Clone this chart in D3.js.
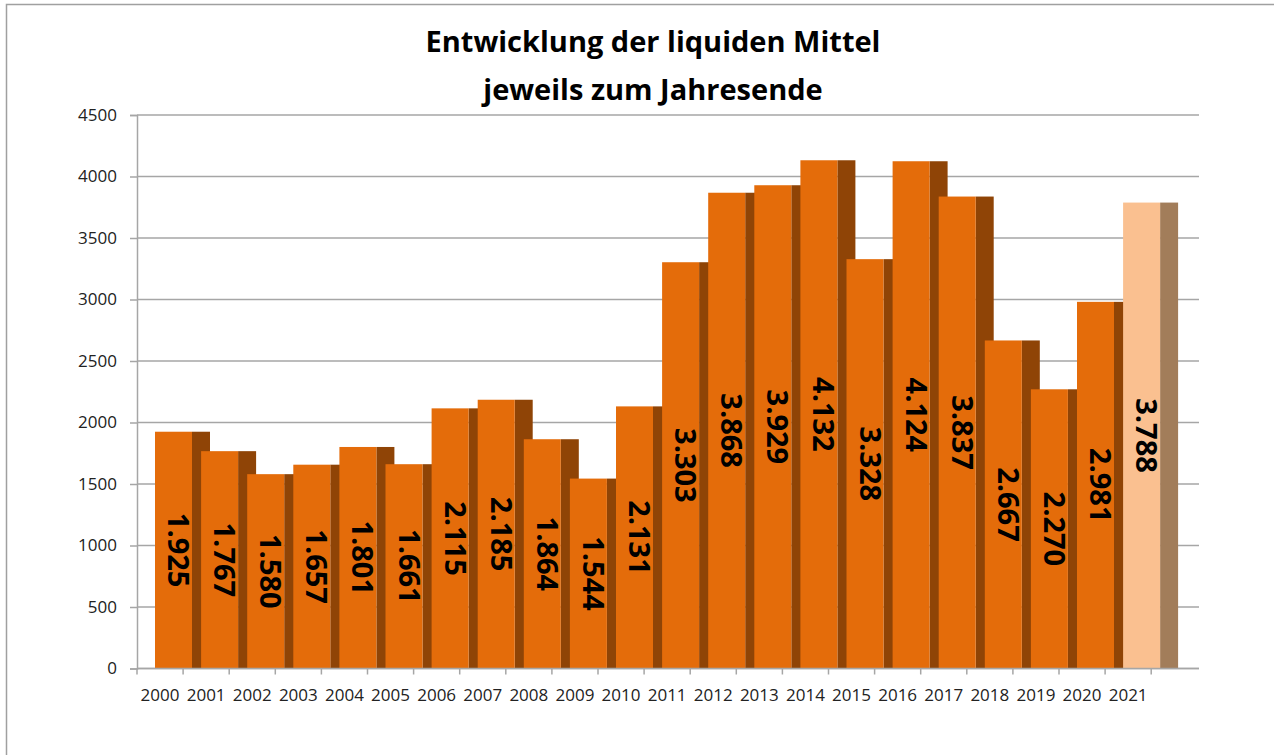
<!DOCTYPE html>
<html>
<head>
<meta charset="utf-8">
<script src="https://cdn.jsdelivr.net/npm/d3@7"></script>
<style>
  body { margin: 0; background: #fff; }
  text { font-family: "Open Sans", "DejaVu Sans", sans-serif; }
</style>
</head>
<body>
<div id="chart"></div>
<script>
// 1: DATA
const years = ["2000", "2001", "2002", "2003", "2004", "2005", "2006", "2007", "2008", "2009", "2010",
    "2011", "2012", "2013", "2014", "2015", "2016", "2017", "2018", "2019", "2020", "2021"];
const liquidity = [1925, 1767, 1580, 1657, 1801, 1661, 2115, 2185, 1864, 1544, 2131,
    3303, 3868, 3929, 4132, 3328, 4124, 3837, 2667, 2270, 2981, 3788];
const yTicks = [0, 500, 1000, 1500, 2000, 2500, 3000, 3500, 4000, 4500];
const titleLines = ["Entwicklung der liquiden Mittel", "jeweils zum Jahresende"];

// 2: GLOBAL VARIABLES
const W = 1274, H = 755;
const plot = { left: 137, right: 1199, top: 115, bottom: 668.5 };
const step = 46.1;
const frontW = 37, sideW = 18, frontOffset = 18;

const de = d3.formatLocale({ decimal: ",", thousands: ".", grouping: [3], currency: ["", " €"] });
const fmt = de.format(",d");

const svg = d3.select("#chart")
    .append("svg")
    .attr("width", W)
    .attr("height", H);

svg.append("rect").attr("width", W).attr("height", H).attr("fill", "#fff");

// outer chart frame (cropped on the right and bottom)
svg.append("path")
    .attr("d", `M6.5,${H}V4.5H${W}`)
    .attr("fill", "none")
    .attr("stroke", "#a0a0a0")
    .attr("stroke-width", 1.5);

// title
svg.append("g").selectAll("text")
    .data(titleLines)
    .join("text")
    .attr("x", 653)
    .attr("y", (d, i) => 52 + i * 48)
    .attr("text-anchor", "middle")
    .attr("font-size", 29)
    .attr("font-weight", 700)
    .attr("fill", "#000")
    .text(d => d);

// 3: SCALES
const xScale = d3.scaleBand()
    .domain(years)
    .range([plot.left, plot.left + step * years.length])
    .padding(0);

const yScale = d3.scaleLinear()
    .domain([0, 4500])
    .range([plot.bottom, plot.top]);

// gridlines
svg.append("g")
    .selectAll("line")
    .data(yTicks)
    .join("line")
    .attr("x1", plot.left)
    .attr("x2", plot.right)
    .attr("y1", d => yScale(d))
    .attr("y2", d => yScale(d))
    .attr("stroke", "#a6a6a6")
    .attr("stroke-width", 1.5);

// y axis
const yAxis = svg.append("g")
    .attr("transform", `translate(${plot.left},0)`)
    .call(d3.axisLeft(yScale).tickValues(yTicks).tickFormat(d3.format("d")).tickSize(7).tickPadding(13));
yAxis.select(".domain").attr("stroke", "#a6a6a6").attr("stroke-width", 1.5);
yAxis.selectAll(".tick line").attr("stroke", "#a6a6a6").attr("stroke-width", 1.5);
yAxis.selectAll(".tick text")
    .attr("font-size", 17)
    .attr("fill", "#222")
    .style("font-family", "'Open Sans', sans-serif");

// 4: BARS (front face + darker side face)
const bars = svg.append("g")
    .selectAll("g")
    .data(years.map((y, i) => ({ year: y, value: liquidity[i], last: i === years.length - 1 })))
    .join("g");

bars.append("rect")
    .attr("x", d => xScale(d.year) + frontOffset + frontW)
    .attr("y", d => yScale(d.value))
    .attr("width", sideW)
    .attr("height", d => plot.bottom - yScale(d.value))
    .attr("fill", d => d.last ? "#a27d5a" : "#8f4406");

bars.append("rect")
    .attr("x", d => xScale(d.year) + frontOffset)
    .attr("y", d => yScale(d.value))
    .attr("width", frontW)
    .attr("height", d => plot.bottom - yScale(d.value))
    .attr("fill", d => d.last ? "#fac090" : "#e46c0a");

// value labels, rotated to read top to bottom
bars.append("text")
    .attr("transform", d => {
        const cx = xScale(d.year) + frontOffset + frontW / 2 + 5;
        const cy = (yScale(d.value) + plot.bottom) / 2;
        return `translate(${cx},${cy}) rotate(90)`;
    })
    .attr("text-anchor", "middle")
    .attr("dy", "0.36em")
    .attr("font-size", 29)
    .attr("font-weight", 700)
    .attr("fill", "#000")
    .text(d => fmt(d.value));

// x axis
svg.append("line")
    .attr("x1", plot.left)
    .attr("x2", plot.right)
    .attr("y1", plot.bottom)
    .attr("y2", plot.bottom)
    .attr("stroke", "#a6a6a6")
    .attr("stroke-width", 1.5);

svg.append("g")
    .selectAll("line")
    .data(d3.range(years.length + 1))
    .join("line")
    .attr("x1", i => plot.left + xScale.step() * i)
    .attr("x2", i => plot.left + xScale.step() * i)
    .attr("y1", plot.bottom)
    .attr("y2", plot.bottom + 6)
    .attr("stroke", "#a6a6a6")
    .attr("stroke-width", 1.5);

svg.append("g")
    .selectAll("text")
    .data(years)
    .join("text")
    .attr("x", d => xScale(d) + xScale.bandwidth() / 2)
    .attr("y", 701)
    .attr("text-anchor", "middle")
    .attr("font-size", 17)
    .attr("fill", "#222")
    .text(d => d);
</script>
</body>
</html>
